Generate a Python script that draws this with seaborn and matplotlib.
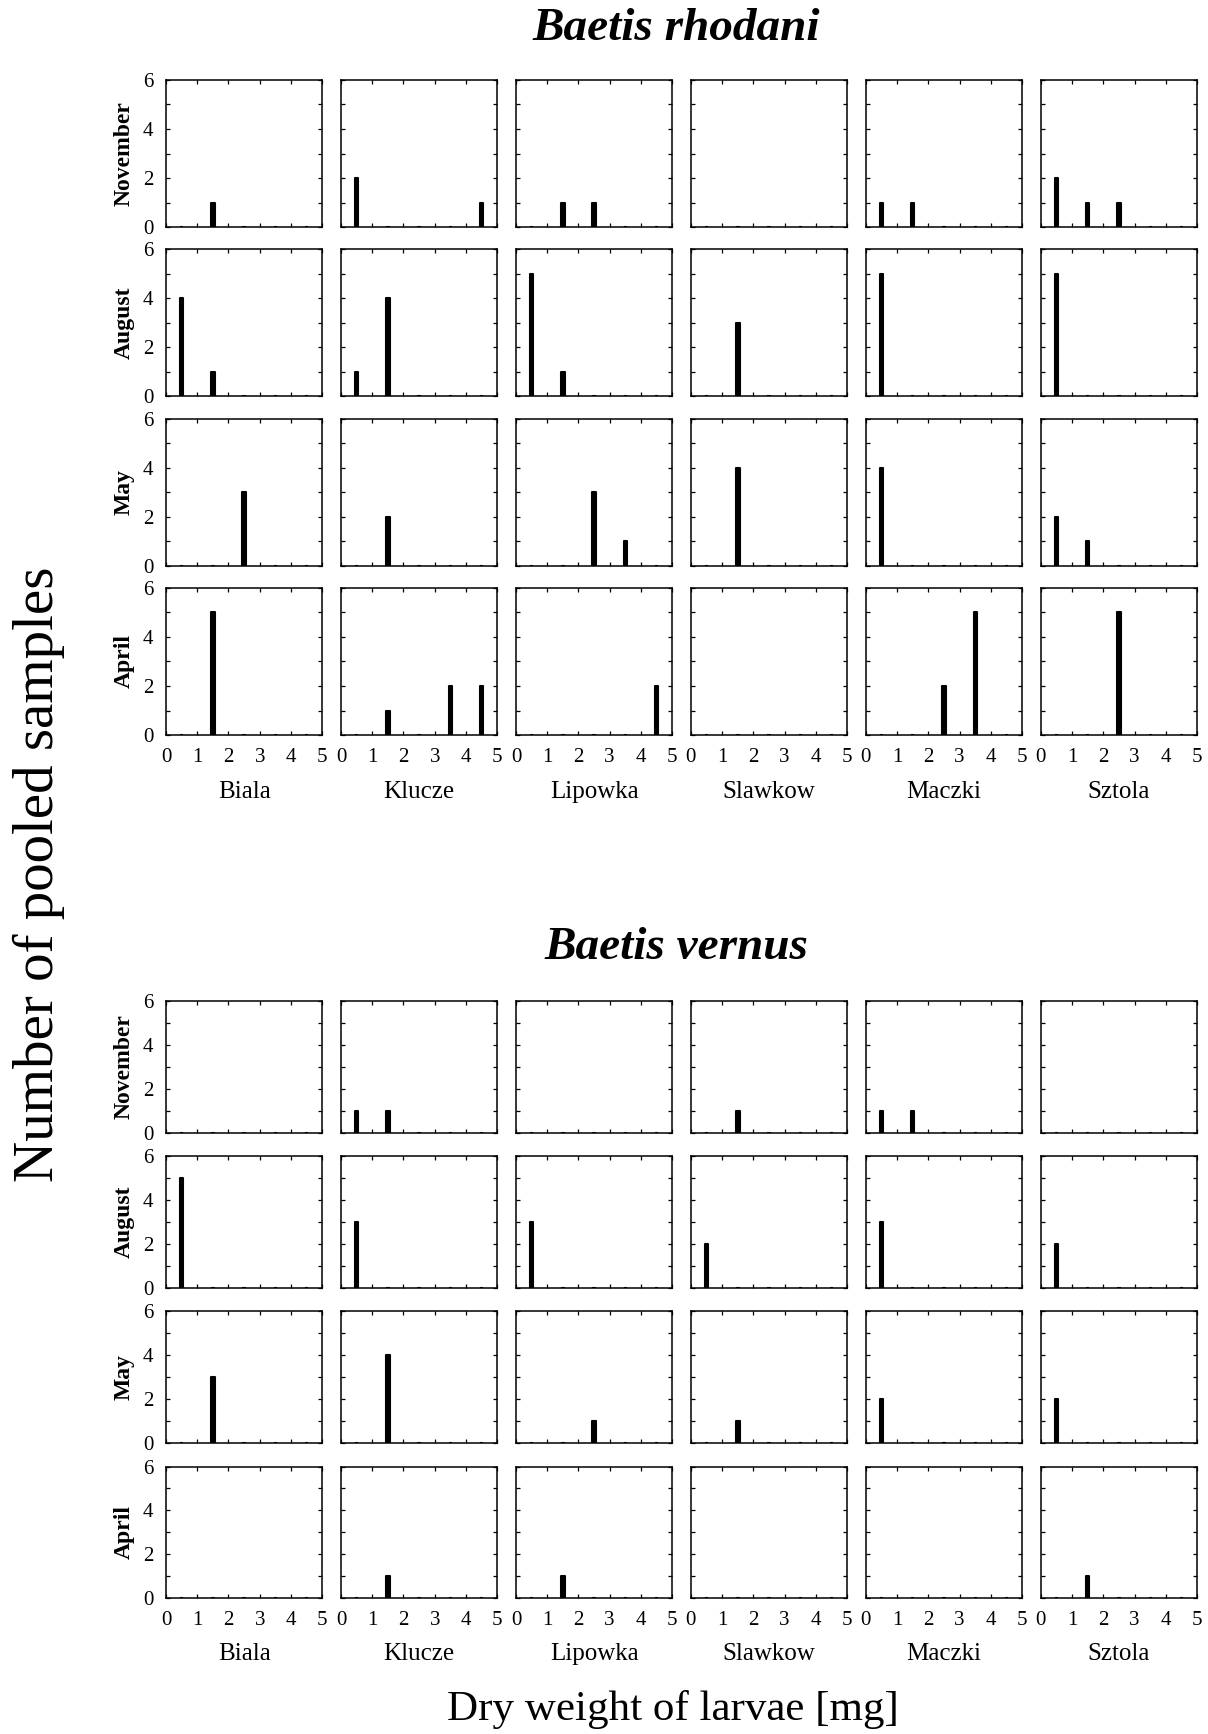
import matplotlib
matplotlib.use("Agg")
import matplotlib.pyplot as plt
import numpy as np
import pandas as pd
import seaborn as sns

# classes of dry weight [mg] (bin centres) and sites
weight_bins = [0.5, 1.5, 2.5, 3.5, 4.5]
sites = ["Biala", "Klucze", "Lipowka", "Slawkow", "Maczki", "Sztola"]
months = ["November", "August", "May", "April"]

# number of pooled samples per weight class, one row per site
rhodani_november = [[0, 1, 0, 0, 0], [2, 0, 0, 0, 1], [0, 1, 1, 0, 0],
                    [0, 0, 0, 0, 0], [1, 1, 0, 0, 0], [2, 1, 1, 0, 0]]
rhodani_august = [[4, 1, 0, 0, 0], [1, 4, 0, 0, 0], [5, 1, 0, 0, 0],
                  [0, 3, 0, 0, 0], [5, 0, 0, 0, 0], [5, 0, 0, 0, 0]]
rhodani_may = [[0, 0, 3, 0, 0], [0, 2, 0, 0, 0], [0, 0, 3, 1, 0],
               [0, 4, 0, 0, 0], [4, 0, 0, 0, 0], [2, 1, 0, 0, 0]]
rhodani_april = [[0, 5, 0, 0, 0], [0, 1, 0, 2, 2], [0, 0, 0, 0, 2],
                 [0, 0, 0, 0, 0], [0, 0, 2, 5, 0], [0, 0, 5, 0, 0]]

vernus_november = [[0, 0, 0, 0, 0], [1, 1, 0, 0, 0], [0, 0, 0, 0, 0],
                   [0, 1, 0, 0, 0], [1, 1, 0, 0, 0], [0, 0, 0, 0, 0]]
vernus_august = [[5, 0, 0, 0, 0], [3, 0, 0, 0, 0], [3, 0, 0, 0, 0],
                 [2, 0, 0, 0, 0], [3, 0, 0, 0, 0], [2, 0, 0, 0, 0]]
vernus_may = [[0, 3, 0, 0, 0], [0, 4, 0, 0, 0], [0, 0, 1, 0, 0],
              [0, 1, 0, 0, 0], [2, 0, 0, 0, 0], [2, 0, 0, 0, 0]]
vernus_april = [[0, 0, 0, 0, 0], [0, 1, 0, 0, 0], [0, 1, 0, 0, 0],
                [0, 0, 0, 0, 0], [0, 0, 0, 0, 0], [0, 1, 0, 0, 0]]

blocks = [
    ("Baetis rhodani", [rhodani_november, rhodani_august, rhodani_may, rhodani_april]),
    ("Baetis vernus", [vernus_november, vernus_august, vernus_may, vernus_april]),
]

sns.set_theme(style="ticks")
plt.rcParams["font.family"] = ["Liberation Serif", "DejaVu Serif"]
plt.rcParams["text.color"] = "black"
plt.rcParams["axes.labelcolor"] = "black"

W, H = 1208, 1734
fig = plt.figure(figsize=(W / 100, H / 100), dpi=100)

# grid placement of the two blocks (figure fractions)
grids = [
    dict(top=0.9539, bottom=0.5761, hspace=0.15),
    dict(top=0.4227, bottom=0.0784, hspace=0.18),
]
title_y = [0.983, 0.453]
site_y = [0.543, 0.046]

for b, (species, month_data) in enumerate(blocks):
    gs = fig.add_gridspec(4, 6, left=0.1374, right=0.991, wspace=0.12, **grids[b])
    for r, month in enumerate(months):
        for c, site in enumerate(sites):
            ax = fig.add_subplot(gs[r, c])
            df = pd.DataFrame({"weight": weight_bins, "n": month_data[r][c]})
            sns.barplot(data=df, x="weight", y="n", native_scale=True, orient="x",
                        width=0.11, color="black", edgecolor="black", linewidth=1.5,
                        errorbar=None, saturation=1, ax=ax)
            for patch in ax.patches:
                patch.set_joinstyle("round")
            ax.set_xlim(0, 5)
            ax.set_ylim(0, 6)
            ax.set_xticks(range(6))
            ax.set_yticks(range(7))
            ax.tick_params(direction="in", length=3, width=0.9, top=True, right=True,
                           labelsize=15, colors="black", pad=9)
            ax.set_yticklabels(["0", "", "2", "", "4", "", "6"])
            if r < 3:
                ax.set_xticklabels([])
            if c > 0:
                ax.set_yticklabels([])
            ax.set_xlabel("")
            ax.set_ylabel("")
            for sp in ax.spines.values():
                sp.set_linewidth(1.1)
                sp.set_color("black")
            if c == 0:
                ax.set_ylabel(month, fontsize=17, fontweight="bold", labelpad=6)
            if r == 3:
                pos = ax.get_position()
                fig.text((pos.x0 + pos.x1) / 2, site_y[b], site, fontsize=18,
                         ha="center", va="center")
    fig.text(0.560, title_y[b], species, fontsize=34, fontweight="bold",
             fontstyle="italic", ha="center", va="center")

fig.text(0.032, 0.496, "Number of pooled samples", fontsize=41, rotation=90,
         ha="center", va="center")
fig.text(0.557, 0.0144, "Dry weight of larvae [mg]", fontsize=31,
         ha="center", va="center")

fig.savefig("out.png", dpi=100, facecolor="white")
